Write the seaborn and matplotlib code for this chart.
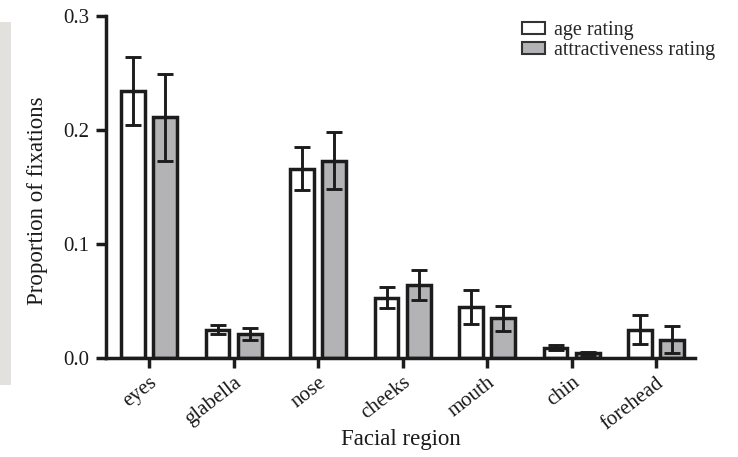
import matplotlib
matplotlib.use("Agg")
import matplotlib.pyplot as plt
import seaborn as sns
import pandas as pd
import numpy as np
from matplotlib.patches import Patch, Rectangle

categories = ["eyes", "glabella", "nose", "cheeks", "mouth", "chin", "forehead"]
series_names = ["age rating", "attractiveness rating"]
age_values = [0.234, 0.025, 0.166, 0.053, 0.045, 0.009, 0.025]
age_errors = [0.030, 0.004, 0.019, 0.009, 0.015, 0.002, 0.013]
attr_values = [0.211, 0.021, 0.173, 0.064, 0.035, 0.004, 0.016]
attr_errors = [0.038, 0.005, 0.025, 0.013, 0.011, 0.001, 0.012]
y_ticks = [0.0, 0.1, 0.2, 0.3]
y_tick_labels = ["0.0", "0.1", "0.2", "0.3"]

sns.set_theme(style="ticks")
plt.rcParams["font.family"] = ["Liberation Serif", "DejaVu Serif"]

df = pd.DataFrame({
    "region": categories * 2,
    "rating": [series_names[0]] * len(categories) + [series_names[1]] * len(categories),
    "value": age_values + attr_values,
})
errs = {series_names[0]: age_errors, series_names[1]: attr_errors}

fig = plt.figure(figsize=(7.38, 4.57), dpi=100)
ax = fig.add_axes([106 / 738, 1 - 358 / 457, (695 - 106) / 738, (358 - 16) / 457])

edge = "#1c1c1c"
txt = "#1a1a1a"
fills = {series_names[0]: "#ffffff", series_names[1]: "#b3b3b5"}
sns.barplot(data=df, x="region", y="value", hue="rating", order=categories,
            hue_order=series_names, palette=fills, errorbar=None,
            width=0.76, gap=0.26, edgecolor=edge, linewidth=2.5,
            legend=False, ax=ax)

# error bars at bar centres from the library's patches
for container, name in zip(ax.containers, series_names):
    xs = [p.get_x() + p.get_width() / 2 for p in container.patches]
    ys = [p.get_height() for p in container.patches]
    ax.errorbar(xs, ys, yerr=errs[name], fmt="none", ecolor=edge,
                elinewidth=2.1, capsize=5.5, capthick=2.1, zorder=5)

ax.set_ylim(0, 0.3)
ax.set_xlim(-0.51, 6.46)
ax.set_yticks(y_ticks)
ax.set_yticklabels(y_tick_labels)
sns.despine(ax=ax)
for s in ["left", "bottom"]:
    ax.spines[s].set_linewidth(2.5)
    ax.spines[s].set_color(edge)
ax.tick_params(axis="both", length=7, width=2.5, color=edge, labelsize=15,
               labelcolor=txt, direction="out")
ax.tick_params(axis="y", pad=5)
ax.tick_params(axis="x", pad=4)
ax.set_xticks(range(len(categories)))
ax.set_xticklabels(categories, rotation=38, ha="right", rotation_mode="anchor")
ax.set_xlabel("Facial region", fontsize=16.5, color=txt, labelpad=-3)
ax.set_ylabel("Proportion of fixations", fontsize=16.5, color=txt)
ax.yaxis.set_label_coords(-0.0985, 0.46)
ax.grid(False)

handles = [Patch(facecolor=fills[n], edgecolor="#333333", linewidth=1.5, label=n)
           for n in series_names]
fig.legend(handles=handles, loc="upper left", bbox_to_anchor=(514 / 738, 1 - 13 / 457),
           frameon=False, fontsize=14.5, handlelength=1.15, handleheight=0.6,
           handletextpad=0.45, labelspacing=0.05, borderaxespad=0)

# scanning strip on the left edge of the reference
fig.patches.append(Rectangle((0, 1 - 385 / 457), 11 / 738, (385 - 22) / 457,
                             transform=fig.transFigure, facecolor="#e2e1dd",
                             edgecolor="none", zorder=0))

fig.savefig("out.png", dpi=100)
